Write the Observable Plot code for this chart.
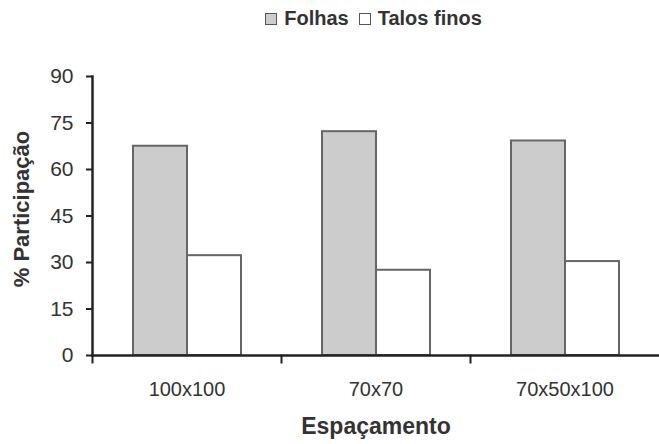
<!DOCTYPE html>
<html>
<head>
<meta charset="utf-8">
<script src="https://cdn.jsdelivr.net/npm/d3@7"></script>
<script src="https://cdn.jsdelivr.net/npm/@observablehq/plot@0.6"></script>
<style>
  html, body { margin: 0; padding: 0; background: #fff; }
  #wrap { position: relative; width: 659px; height: 444px; font-family: "Liberation Sans", Arial, sans-serif; }
  #legend { position: absolute; top: 7px; left: 0; width: 659px; display: flex; justify-content: center; align-items: center; gap: 10px; font-weight: bold; font-size: 20px; color: #333; padding-left: 88px; box-sizing: border-box; }
  #legend .sw { display: inline-block; width: 10px; height: 10px; border: 1.5px solid #555; margin-right: 7px; }
  #legend .item { display: inline-flex; align-items: center; }
  svg text { fill: #333; }
  g[aria-label="fx-axis label"] text { font-weight: bold; font-size: 23px; }
</style>
</head>
<body>
<div id="wrap">
  <div id="legend"></div>
  <div id="chart"></div>
</div>
<script>
const categories = ["100x100", "70x70", "70x50x100"];
const series = ["Folhas", "Talos finos"];
const folhas = [67.5, 72.2, 69.2];
const talosFinos = [32.2, 27.5, 30.3];
const yTicks = [0, 15, 30, 45, 60, 75, 90];
const yLabel = "% Participação";
const xLabel = "Espaçamento";
const colors = ["#cccccc", "#ffffff"];

const data = [];
categories.forEach((c, i) => {
  data.push({cat: c, serie: series[0], value: folhas[i]});
  data.push({cat: c, serie: series[1], value: talosFinos[i]});
});

const legend = document.getElementById("legend");
series.forEach((s, i) => {
  const item = document.createElement("span");
  item.className = "item";
  const sw = document.createElement("span");
  sw.className = "sw";
  sw.style.background = colors[i];
  item.appendChild(sw);
  item.appendChild(document.createTextNode(s));
  legend.appendChild(item);
});

const chart = Plot.plot({
  width: 659,
  height: 444,
  marginLeft: 91,
  marginRight: 0,
  marginTop: 76,
  marginBottom: 89,
  style: {fontFamily: "'Liberation Sans', Arial, sans-serif", background: "#fff", overflow: "visible"},
  fx: {domain: categories, padding: 0},
  x: {domain: series, paddingInner: 0, paddingOuter: 0.74, axis: null},
  y: {domain: [0, 90]},
  color: {domain: series, range: colors},
  marks: [
    Plot.barY(data, {fx: "cat", x: "serie", y: "value", fill: "serie", stroke: "#666", strokeWidth: 2, inset: 0}),
    Plot.ruleY([0], {stroke: "#222", strokeWidth: 2.5}),
    Plot.frame({anchor: "left", stroke: "#222", strokeWidth: 2, insetTop: 279, insetBottom: -7}),
    Plot.frame({anchor: "left", facetAnchor: "left", stroke: "#222", strokeWidth: 2.5}),
    Plot.axisY({ticks: yTicks, tickSize: 6, tickPadding: 13, fontSize: 21, stroke: "#222", strokeWidth: 2, label: null}),
    Plot.text([yLabel], {facetAnchor: "left", frameAnchor: "left", textAnchor: "middle", rotate: -90, dx: -71, dy: -7,
                         fontSize: 22, fontWeight: "bold", fill: "#333"}),
    Plot.axisFx({anchor: "bottom", tickSize: 0, tickPadding: 26, fontSize: 20,
                 label: xLabel, labelArrow: "none", labelAnchor: "center", labelOffset: 78})
  ]
});
document.getElementById("chart").appendChild(chart);
</script>
</body>
</html>
